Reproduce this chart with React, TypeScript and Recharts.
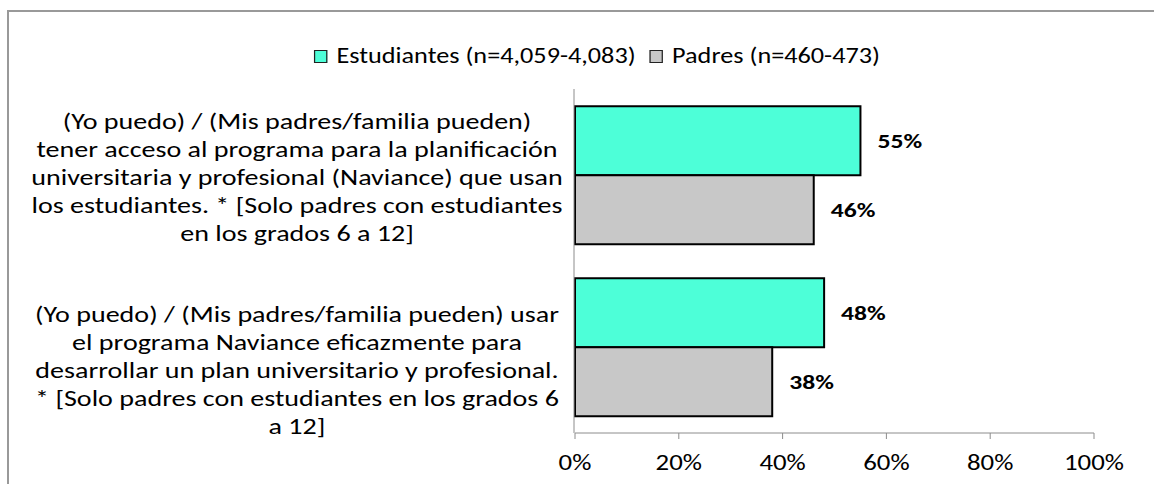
import { Bar, BarChart, LabelList, Legend, XAxis, YAxis } from "recharts";

const categories = [
  "(Yo puedo) / (Mis padres/familia pueden) tener acceso al programa para la planificación universitaria y profesional (Naviance) que usan los estudiantes. * [Solo padres con estudiantes en los grados 6 a 12]",
  "(Yo puedo) / (Mis padres/familia pueden) usar el programa Naviance eficazmente para desarrollar un plan universitario y profesional. * [Solo padres con estudiantes en los grados 6 a 12]",
];

// how the category text wraps in the reference
const categoryLines = [
  [
    "(Yo puedo) / (Mis padres/familia pueden)",
    "tener acceso al programa para la planificación",
    "universitaria y profesional (Naviance) que usan",
    "los estudiantes. * [Solo padres con estudiantes",
    "en los grados 6 a 12]",
  ],
  [
    "(Yo puedo) / (Mis padres/familia pueden) usar",
    "el programa Naviance eficazmente para",
    "desarrollar un plan universitario y profesional.",
    "* [Solo padres con estudiantes en los grados 6",
    "a 12]",
  ],
];

const estudiantes = [0.55, 0.48];
const padres = [0.46, 0.38];

const seriesNames = ["Estudiantes (n=4,059-4,083)", "Padres (n=460-473)"];
const xTicks = [0, 0.2, 0.4, 0.6, 0.8, 1];

const data = categories.map((name, i) => ({
  name,
  estudiantes: estudiantes[i],
  padres: padres[i],
}));

const FONT = "Carlito, Calibri, 'Open Sans', sans-serif";
const TEAL = "#4dffd8";
const GREY = "#c8c8c8";
const AXIS = "#8c8c8c";
// the source image is stretched horizontally, text included
const SX = 1.22;

const pct = (v: number) => `${Math.round(v * 100)}%`;
const stretch = (x: number) => `translate(${x} 0) scale(${SX} 1) translate(${-x} 0)`;

function CategoryTick(props: any) {
  const { y, payload } = props;
  const idx = categories.indexOf(payload.value);
  const lines = categoryLines[idx] || [];
  const shift = idx === 0 ? 2 : 23;
  const lh = 28;
  const cx = 297;
  return (
    <text
      x={cx}
      y={y + shift - ((lines.length - 1) * lh) / 2}
      textAnchor="middle"
      fill="#000"
      fontSize={23}
      fontFamily={FONT}
      dominantBaseline="central"
      transform={stretch(cx)}
    >
      {lines.map((l, i) => (
        <tspan key={i} x={cx} dy={i === 0 ? 0 : lh}>
          {l}
        </tspan>
      ))}
    </text>
  );
}

function ValueTick(props: any) {
  const { x, y, payload } = props;
  return (
    <text
      x={x}
      y={y}
      dy="0.71em"
      textAnchor="middle"
      fill="#000"
      fontSize={22}
      fontFamily={FONT}
      transform={stretch(x)}
    >
      {pct(payload.value)}
    </text>
  );
}

function BarValue(props: any) {
  const { x, y, width, height, value } = props;
  const lx = x + width + 17;
  return (
    <text
      x={lx}
      y={y + height / 2}
      dominantBaseline="central"
      fill="#000"
      fontSize={21}
      fontWeight={700}
      fontFamily={FONT}
      transform={stretch(lx)}
    >
      {pct(Number(value))}
    </text>
  );
}

function LegendBox() {
  const items = [
    { name: seriesNames[0], color: TEAL },
    { name: seriesNames[1], color: GREY },
  ];
  return (
    <div
      style={{
        display: "flex",
        justifyContent: "center",
        alignItems: "center",
        gap: 14 / SX,
        fontFamily: FONT,
        fontSize: 21.5,
        color: "#000",
        lineHeight: "28px",
        transform: `scaleX(${SX})`,
        transformOrigin: "center",
      }}
    >
      {items.map((it) => (
        <div key={it.name} style={{ display: "flex", alignItems: "center", gap: 9 / SX }}>
          <span
            style={{
              width: 11 / SX,
              height: 11,
              background: it.color,
              border: "1.5px solid #222",
              display: "inline-block",
            }}
          />
          <span>{it.name}</span>
        </div>
      ))}
    </div>
  );
}

export default function App() {
  return (
    <div
      style={{
        position: "absolute",
        left: 0,
        top: 0,
        width: 1154,
        height: 484,
        overflow: "hidden",
        background: "#fff",
      }}
    >
      <div
        style={{
          position: "absolute",
          left: 7,
          top: 10,
          width: 1200,
          height: 520,
          borderLeft: "2px solid #999",
          borderTop: "2px solid #999",
        }}
      />
      <BarChart
        width={1154}
        height={484}
        data={data}
        layout="vertical"
        margin={{ top: 89, right: 60, bottom: 21, left: 573 }}
        barCategoryGap="10%"
        barGap={0}
        style={{ position: "absolute", left: 0, top: 0 }}
      >
        <XAxis
          type="number"
          domain={[0, 1]}
          ticks={xTicks}
          stroke={AXIS}
          height={30}
          tickSize={6}
          tickMargin={15}
          tick={<ValueTick />}
          interval={0}
        />
        <YAxis
          yAxisId="frame"
          type="number"
          domain={[0, 2]}
          ticks={[0, 1, 2]}
          width={1}
          stroke={AXIS}
          tickSize={6}
          tick={false}
        />
        <YAxis
          type="category"
          dataKey="name"
          width={1}
          axisLine={false}
          tickLine={false}
          tick={<CategoryTick />}
          interval={0}
        />
        <Legend
          layout="horizontal"
          align="center"
          verticalAlign="middle"
          wrapperStyle={{ top: 42, left: 297, width: 600 }}
          content={<LegendBox />}
        />
        <Bar
          dataKey="estudiantes"
          name={seriesNames[0]}
          fill={TEAL}
          stroke="#000"
          strokeWidth={2}
          isAnimationActive={false}
        >
          <LabelList dataKey="estudiantes" content={<BarValue />} />
        </Bar>
        <Bar
          dataKey="padres"
          name={seriesNames[1]}
          fill={GREY}
          stroke="#000"
          strokeWidth={2}
          isAnimationActive={false}
        >
          <LabelList dataKey="padres" content={<BarValue />} />
        </Bar>
      </BarChart>
    </div>
  );
}
